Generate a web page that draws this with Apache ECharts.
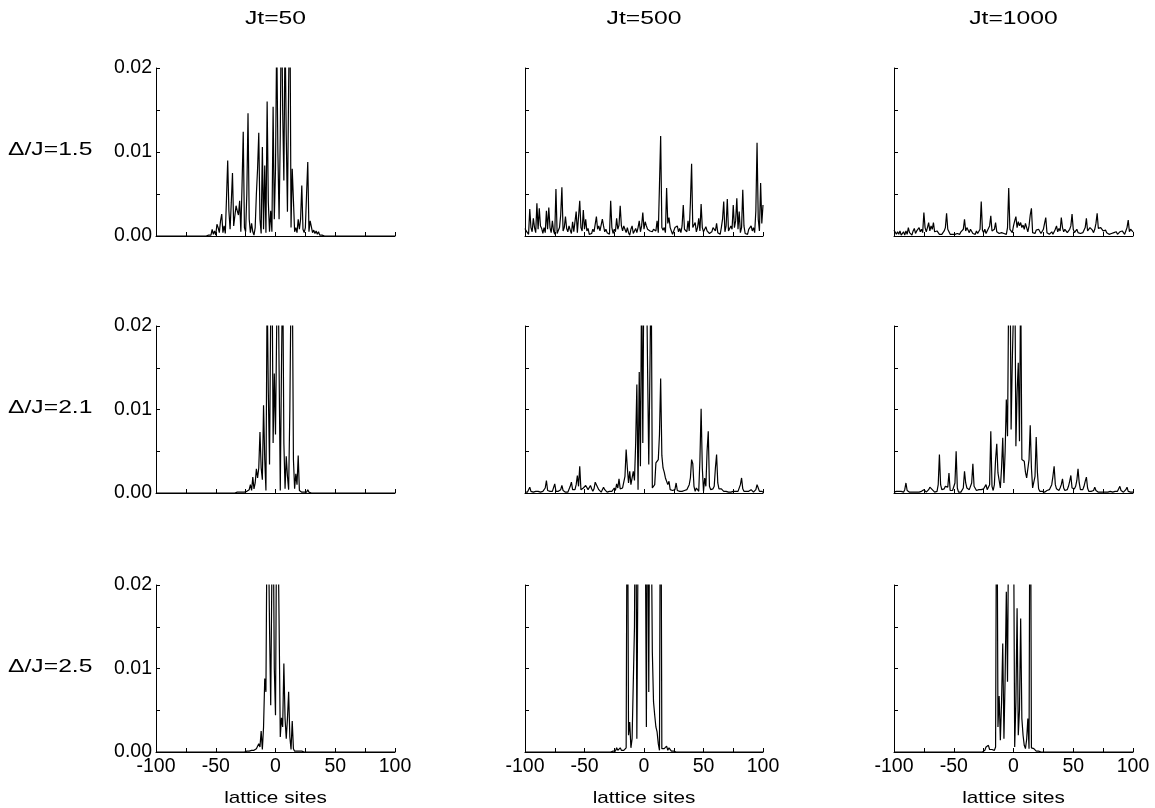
<!DOCTYPE html>
<html>
<head>
<meta charset="utf-8">
<title>lattice sites</title>
<script src="https://cdn.jsdelivr.net/npm/echarts@6/dist/echarts.min.js"></script>
<style>
html, body { margin: 0; padding: 0; background: #fff; }
#main { width: 1155px; height: 808px; }
</style>
</head>
<body>
<div id="main"></div>
<script>
// column titles, row labels, tick labels
var times = ['Jt=50', 'Jt=500', 'Jt=1000'];
var gaps = ['\u0394/J=1.5', '\u0394/J=2.1', '\u0394/J=2.5'];
var xTicks = [-100, -50, 0, 50, 100];
var yTicks = [0, 0.01, 0.02];

// lattice sites -100 .. 100
var sites = [];
for (var s = -100; s <= 100; s++) sites.push(s);

// Δ/J=1.5
var d15_50 = [
  0, 0, 0, 0, 0, 0, 0, 0, 0, 0,
  0, 0, 0, 0, 0, 0, 0, 0, 0, 0,
  0, 0, 0, 0, 0, 0, 0, 0, 0, 0,
  0, 0, 0, 0, 0, 0, 0, 0, 0, 0,
  0, 0.0001, 0, 0.0002, 0.0001, 0.0003, 0.0001, 0.0008, 0.0002, 0.0006,
  0.0001, 0.0014, 0.0010, 0.0004, 0.0018, 0.0026, 0.0004, 0.0012, 0.0003, 0.0045,
  0.0090, 0.0030, 0.0008, 0.0040, 0.0075, 0.0012, 0.0010, 0.0036, 0.0030, 0.0025,
  0.0042, 0.0005, 0.0060, 0.0124, 0.0010, 0.0005, 0.0050, 0.0146, 0.0020, 0.0004,
  0.0015, 0.0005, 0.0001, 0.0010, 0.0050, 0.0080, 0.0123, 0.0020, 0.0003, 0.0106,
  0.0008, 0.0084, 0.0004, 0.0160, 0.0040, 0.0005, 0.0030, 0.0005, 0.0154, 0.0020,
  0.0080, 0.0240, 0.0100, 0.0020, 0.0120, 0.0300, 0.0150, 0.0066, 0.0250, 0.0120,
  0.0029, 0.0180, 0.0300, 0.0010, 0.0080, 0.0078, 0.0005, 0.0010, 0.0004, 0.0020,
  0.0008, 0.0020, 0.0060, 0.0008, 0.0004, 0.0010, 0.0050, 0.0088, 0.0005, 0.0018,
  0.0017, 0.0004, 0.0007, 0.0003, 0.0006, 0.0002, 0.0005, 0.0001, 0.0003, 0.0001,
  0.0001, 0, 0, 0, 0, 0, 0, 0, 0, 0,
  0, 0, 0, 0, 0, 0, 0, 0, 0, 0,
  0, 0, 0, 0, 0, 0, 0, 0, 0, 0,
  0, 0, 0, 0, 0, 0, 0, 0, 0, 0,
  0, 0, 0, 0, 0, 0, 0, 0, 0, 0,
  0, 0, 0, 0, 0, 0, 0, 0, 0, 0,
  0
];
var d15_500 = [
  0.0009, 0.0006, 0.0008, 0.0002, 0.0032, 0.0010, 0.0005, 0.0021, 0.0010, 0.0004,
  0.0039, 0.0008, 0.0033, 0.0012, 0.0009, 0.0003, 0.0010, 0.0004, 0.0030, 0.0008,
  0.0034, 0.0010, 0.0004, 0.0018, 0.0006, 0.0002, 0.0056, 0.0003, 0.0001, 0.0010,
  0.0025, 0.0058, 0.0006, 0.0010, 0.0023, 0.0009, 0.0005, 0.0012, 0.0007, 0.0003,
  0.0017, 0.0005, 0.0006, 0.0029, 0.0004, 0.0003, 0.0042, 0.0010, 0.0006, 0.0031,
  0.0008, 0.0020, 0.0006, 0.0009, 0.0002, 0.0001, 0.0003, 0.0008, 0.0005, 0.0004,
  0.0023, 0.0008, 0.0012, 0.0006, 0.0005, 0.0020, 0.0012, 0.0005, 0.0008, 0.0004,
  0.0006, 0.0002, 0.0042, 0.0010, 0.0003, 0.0008, 0.0005, 0.0021, 0.0008, 0.0013,
  0.0036, 0.0012, 0.0006, 0.0012, 0.0008, 0.0004, 0.0010, 0.0004, 0.0001, 0.0008,
  0.0012, 0.0003, 0.0001, 0.0009, 0.0004, 0.0010, 0.0018, 0.0005, 0.0012, 0.0028,
  0.0008, 0.0017, 0.0012, 0.0008, 0.0010, 0.0006, 0.0008, 0.0005, 0.0008, 0.0010,
  0.0006, 0.0018, 0.0004, 0.0060, 0.0119, 0.0010, 0.0007, 0.0010, 0.0004, 0.0057,
  0.0015, 0.0022, 0.0010, 0.0006, 0.0002, 0.0006, 0.0010, 0.0008, 0.0012, 0.0005,
  0.0009, 0.0004, 0.0012, 0.0037, 0.0008, 0.0009, 0.0005, 0.0018, 0.0006, 0.0040,
  0.0086, 0.0010, 0.0009, 0.0016, 0.0005, 0.0010, 0.0021, 0.0006, 0.0038, 0.0010,
  0.0005, 0.0008, 0.0011, 0.0006, 0.0007, 0.0003, 0.0002, 0.0005, 0.0010, 0.0012,
  0.0006, 0.0015, 0.0004, 0.0005, 0.0002, 0.0010, 0.0020, 0.0041, 0.0005, 0.0012,
  0.0044, 0.0006, 0.0005, 0.0012, 0.0008, 0.0037, 0.0010, 0.0018, 0.0045, 0.0008,
  0.0029, 0.0004, 0.0010, 0.0055, 0.0012, 0.0003, 0.0005, 0.0002, 0.0008, 0.0010,
  0.0012, 0.0006, 0.0010, 0.0004, 0.0030, 0.0111, 0.0020, 0.0006, 0.0063, 0.0015,
  0.0037
];
var d15_1000 = [
  0.0007, 0.0005, 0.0002, 0.0005, 0.0002, 0.0006, 0.0001, 0.0003, 0.0005, 0.0001,
  0.0006, 0.0002, 0.0010, 0.0004, 0.0002, 0.0001, 0.0006, 0.0009, 0.0003, 0.0006,
  0.0004, 0.0010, 0.0005, 0.0008, 0.0004, 0.0028, 0.0010, 0.0005, 0.0010, 0.0016,
  0.0006, 0.0012, 0.0008, 0.0016, 0.0005, 0.0003, 0.0006, 0.0004, 0.0002, 0.0004,
  0.0002, 0.0003, 0.0006, 0.0010, 0.0027, 0.0008, 0.0005, 0.0002, 0.0001, 0.0002,
  0.0001, 0.0002, 0.0001, 0.0003, 0.0001, 0.0002, 0.0005, 0.0003, 0.0008, 0.0020,
  0.0006, 0.0010, 0.0009, 0.0004, 0.0008, 0.0006, 0.0003, 0.0005, 0.0002, 0.0006,
  0.0003, 0.0004, 0.0008, 0.0041, 0.0007, 0.0004, 0.0008, 0.0003, 0.0006, 0.0009,
  0.0012, 0.0024, 0.0006, 0.0004, 0.0008, 0.0016, 0.0005, 0.0006, 0.0003, 0.0005,
  0.0004, 0.0005, 0.0003, 0.0004, 0.0002, 0.0010, 0.0057, 0.0008, 0.0006, 0.0004,
  0.0012, 0.0018, 0.0023, 0.0010, 0.0017, 0.0012, 0.0016, 0.0010, 0.0013, 0.0008,
  0.0015, 0.0010, 0.0005, 0.0012, 0.0025, 0.0033, 0.0004, 0.0006, 0.0003, 0.0007,
  0.0005, 0.0008, 0.0006, 0.0003, 0.0005, 0.0008, 0.0015, 0.0022, 0.0004, 0.0006,
  0.0002, 0.0003, 0.0005, 0.0002, 0.0004, 0.0008, 0.0012, 0.0005, 0.0009, 0.0006,
  0.0022, 0.0010, 0.0005, 0.0008, 0.0010, 0.0004, 0.0006, 0.0008, 0.0012, 0.0026,
  0.0008, 0.0004, 0.0006, 0.0008, 0.0004, 0.0006, 0.0003, 0.0005, 0.0004, 0.0006,
  0.0010, 0.0021, 0.0006, 0.0008, 0.0010, 0.0009, 0.0007, 0.0004, 0.0008, 0.0015,
  0.0027, 0.0009, 0.0008, 0.0010, 0.0008, 0.0006, 0.0005, 0.0007, 0.0004, 0.0003,
  0.0002, 0.0004, 0.0003, 0.0002, 0.0004, 0.0003, 0.0005, 0.0002, 0.0004, 0.0005,
  0.0003, 0.0006, 0.0004, 0.0002, 0.0006, 0.0010, 0.0019, 0.0005, 0.0008, 0.0006,
  0.0005
];

// Δ/J=2.1
var d21_50 = [
  0, 0, 0, 0, 0, 0, 0, 0, 0, 0,
  0, 0, 0, 0, 0, 0, 0, 0, 0, 0,
  0, 0, 0, 0, 0, 0, 0, 0, 0, 0,
  0, 0, 0, 0, 0, 0, 0, 0, 0, 0,
  0, 0, 0, 0, 0, 0, 0, 0, 0, 0,
  0, 0, 0, 0, 0, 0, 0, 0, 0, 0,
  0, 0, 0, 0.0001, 0, 0.0001, 0, 0.0001, 0.0001, 0,
  0.0001, 0.0002, 0.0001, 0.0002, 0.0001, 0.0003, 0.0002, 0.0001, 0.0004, 0.0010,
  0.0003, 0.0019, 0.0005, 0.0012, 0.0029, 0.0018, 0.0030, 0.0073, 0.0030, 0.0016,
  0.0105, 0.0040, 0.0003, 0.0250, 0.0120, 0.0034, 0.0220, 0.0300, 0.0060, 0.0143,
  0.0070, 0.0200, 0.0300, 0.0150, 0.0003, 0.0150, 0.0280, 0.0060, 0.0005, 0.0044,
  0.0020, 0.0004, 0.0100, 0.0250, 0.0280, 0.0040, 0.0005, 0.0023, 0.0010, 0.0045,
  0.0003, 0.0002, 0.0001, 0.0002, 0.0001, 0.0002, 0.0001, 0.0004, 0.0001, 0.0001,
  0, 0, 0, 0, 0, 0, 0, 0, 0, 0,
  0, 0, 0, 0, 0, 0, 0, 0, 0, 0,
  0, 0, 0, 0, 0, 0, 0, 0, 0, 0,
  0, 0, 0, 0, 0, 0, 0, 0, 0, 0,
  0, 0, 0, 0, 0, 0, 0, 0, 0, 0,
  0, 0, 0, 0, 0, 0, 0, 0, 0, 0,
  0, 0, 0, 0, 0, 0, 0, 0, 0, 0,
  0
];
var d21_500 = [
  0.0001, 0.0002, 0.0001, 0.0004, 0.0007, 0.0002, 0.0001, 0.0001, 0.0001, 0.0002,
  0.0001, 0.0002, 0.0004, 0.0001, 0.0001, 0.0002, 0.0001, 0.0006, 0.0015, 0.0003,
  0.0001, 0.0002, 0.0001, 0.0002, 0.0004, 0.0011, 0.0002, 0.0001, 0.0002, 0.0001,
  0.0004, 0.0009, 0.0003, 0.0001, 0.0001, 0.0002, 0.0001, 0.0003, 0.0008, 0.0013,
  0.0004, 0.0002, 0.0004, 0.0010, 0.0021, 0.0008, 0.0032, 0.0004, 0.0002, 0.0006,
  0.0004, 0.0009, 0.0008, 0.0004, 0.0002, 0.0009, 0.0005, 0.0002, 0.0005, 0.0013,
  0.0010, 0.0007, 0.0004, 0.0003, 0.0001, 0.0002, 0.0007, 0.0004, 0.0002, 0.0001,
  0.0001, 0.0002, 0.0001, 0.0002, 0.0004, 0.0006, 0.0003, 0.0011, 0.0006, 0.0017,
  0.0005, 0.0004, 0.0006, 0.0008, 0.0020, 0.0052, 0.0030, 0.0012, 0.0026, 0.0010,
  0.0018, 0.0026, 0.0015, 0.0060, 0.0130, 0.0004, 0.0145, 0.0032, 0.0260, 0.0060,
  0.0300, 0.0250, 0.0280, 0.0150, 0.0034, 0.0150, 0.0280, 0.0006, 0.0005, 0.0010,
  0.0036, 0.0038, 0.0040, 0.0070, 0.0137, 0.0045, 0.0030, 0.0025, 0.0018, 0.0016,
  0.0010, 0.0014, 0.0004, 0.0002, 0.0003, 0.0002, 0.0004, 0.0012, 0.0003, 0.0002,
  0.0002, 0.0003, 0.0002, 0.0002, 0.0003, 0.0002, 0.0004, 0.0006, 0.0010, 0.0018,
  0.0040, 0.0035, 0.0008, 0.0002, 0.0006, 0.0004, 0.0002, 0.0040, 0.0101, 0.0030,
  0.0002, 0.0018, 0.0008, 0.0050, 0.0074, 0.0008, 0.0004, 0.0006, 0.0005, 0.0008,
  0.0030, 0.0046, 0.0012, 0.0005, 0.0004, 0.0005, 0.0004, 0.0002, 0.0001, 0.0002,
  0.0001, 0.0001, 0.0002, 0.0001, 0.0001, 0.0002, 0.0001, 0.0002, 0.0001, 0.0002,
  0.0004, 0.0010, 0.0018, 0.0005, 0.0002, 0.0001, 0.0002, 0.0001, 0.0002, 0.0003,
  0.0004, 0.0002, 0.0001, 0.0002, 0.0004, 0.0010, 0.0006, 0.0002, 0.0001, 0.0002,
  0.0001
];
var d21_1000 = [
  0.0001, 0.0001, 0.0002, 0.0001, 0.0002, 0.0003, 0.0002, 0.0001, 0.0001, 0.0004,
  0.0012, 0.0003, 0.0002, 0.0001, 0.0001, 0.0001, 0.0002, 0.0001, 0.0001, 0.0001,
  0.0002, 0.0001, 0.0001, 0.0002, 0.0003, 0.0004, 0.0002, 0.0001, 0.0002, 0.0004,
  0.0007, 0.0005, 0.0004, 0.0003, 0.0001, 0.0001, 0.0002, 0.0010, 0.0046, 0.0010,
  0.0004, 0.0006, 0.0005, 0.0008, 0.0010, 0.0007, 0.0024, 0.0003, 0.0002, 0.0003,
  0.0004, 0.0012, 0.0050, 0.0006, 0.0001, 0.0002, 0.0001, 0.0002, 0.0006, 0.0026,
  0.0012, 0.0006, 0.0005, 0.0004, 0.0006, 0.0012, 0.0035, 0.0008, 0.0006, 0.0003,
  0.0002, 0.0004, 0.0006, 0.0004, 0.0003, 0.0005, 0.0007, 0.0010, 0.0004, 0.0002,
  0.0010, 0.0074, 0.0008, 0.0003, 0.0010, 0.0040, 0.0059, 0.0024, 0.0015, 0.0006,
  0.0030, 0.0066, 0.0012, 0.0050, 0.0112, 0.0068, 0.0250, 0.0300, 0.0076, 0.0158,
  0.0220, 0.0300, 0.0056, 0.0120, 0.0156, 0.0062, 0.0260, 0.0040, 0.0042, 0.0038,
  0.0025, 0.0018, 0.0017, 0.0040, 0.0081, 0.0030, 0.0006, 0.0004, 0.0020, 0.0067,
  0.0025, 0.0005, 0.0002, 0.0001, 0.0002, 0.0001, 0.0001, 0.0002, 0.0003, 0.0002,
  0.0004, 0.0005, 0.0010, 0.0020, 0.0032, 0.0010, 0.0005, 0.0004, 0.0003, 0.0006,
  0.0010, 0.0017, 0.0006, 0.0003, 0.0002, 0.0004, 0.0008, 0.0014, 0.0021, 0.0006,
  0.0004, 0.0005, 0.0008, 0.0015, 0.0029, 0.0012, 0.0004, 0.0003, 0.0004, 0.0008,
  0.0014, 0.0019, 0.0006, 0.0002, 0.0001, 0.0002, 0.0001, 0.0003, 0.0007, 0.0003,
  0.0001, 0.0001, 0.0002, 0.0001, 0.0001, 0.0001, 0.0002, 0.0001, 0.0001, 0.0001,
  0.0001, 0.0002, 0.0001, 0.0001, 0.0001, 0.0002, 0.0001, 0.0002, 0.0004, 0.0008,
  0.0003, 0.0001, 0.0001, 0.0002, 0.0004, 0.0007, 0.0002, 0.0001, 0.0001, 0.0001,
  0.0001
];

// Δ/J=2.5
var d25_50 = [
  0, 0, 0, 0, 0, 0, 0, 0, 0, 0,
  0, 0, 0, 0, 0, 0, 0, 0, 0, 0,
  0, 0, 0, 0, 0, 0, 0, 0, 0, 0,
  0, 0, 0, 0, 0, 0, 0, 0, 0, 0,
  0, 0, 0, 0, 0, 0, 0, 0, 0, 0,
  0, 0, 0, 0, 0, 0, 0, 0, 0, 0,
  0, 0, 0, 0, 0, 0, 0, 0, 0, 0,
  0, 0, 0, 0, 0, 0, 0.0001, 0, 0.0001, 0.0001,
  0.0002, 0.0001, 0.0002, 0.0003, 0.0004, 0.0002, 0.0010, 0.0006, 0.0025, 0.0003,
  0.0030, 0.0088, 0.0072, 0.0300, 0.0280, 0.0150, 0.0056, 0.0220, 0.0300, 0.0100,
  0.0044, 0.0300, 0.0280, 0.0156, 0.0018, 0.0041, 0.0030, 0.0106, 0.0040, 0.0016,
  0.0040, 0.0072, 0.0018, 0.0003, 0.0037, 0.0004, 0.0001, 0.0002, 0.0001, 0.0002,
  0.0001, 0.0002, 0.0001, 0.0001, 0, 0, 0, 0, 0, 0,
  0, 0, 0, 0, 0, 0, 0, 0, 0, 0,
  0, 0, 0, 0, 0, 0, 0, 0, 0, 0,
  0, 0, 0, 0, 0, 0, 0, 0, 0, 0,
  0, 0, 0, 0, 0, 0, 0, 0, 0, 0,
  0, 0, 0, 0, 0, 0, 0, 0, 0, 0,
  0, 0, 0, 0, 0, 0, 0, 0, 0, 0,
  0, 0, 0, 0, 0, 0, 0, 0, 0, 0,
  0
];
var d25_500 = [
  0, 0, 0, 0, 0, 0, 0, 0, 0, 0,
  0, 0, 0, 0, 0, 0, 0, 0, 0, 0,
  0, 0, 0, 0, 0, 0, 0, 0, 0, 0,
  0, 0, 0, 0, 0, 0, 0, 0, 0, 0,
  0, 0, 0, 0, 0, 0, 0, 0, 0, 0,
  0, 0, 0, 0, 0, 0, 0, 0, 0, 0,
  0, 0, 0, 0, 0, 0, 0, 0, 0, 0,
  0, 0, 0, 0, 0.0001, 0.0002, 0.0001, 0.0005, 0.0002, 0.0004,
  0.0005, 0.0002, 0.0001, 0.0002, 0.0004, 0.0005, 0.0400, 0.0020, 0.0036, 0.0005,
  0.0016, 0.0017, 0.0150, 0.0400, 0.0016, 0.0250, 0.0400, 0.0450, 0.0500, 0.0450,
  0.0400, 0.0300, 0.0030, 0.0400, 0.0072, 0.0400, 0.0300, 0.0120, 0.0060, 0.0044,
  0.0030, 0.0024, 0.0010, 0.0002, 0.0450, 0.0004, 0.0002, 0.0004, 0.0002, 0.0007,
  0.0002, 0.0005, 0.0003, 0.0001, 0.0002, 0.0001, 0, 0, 0, 0,
  0, 0, 0, 0, 0, 0, 0, 0, 0, 0,
  0, 0, 0, 0, 0, 0, 0, 0, 0, 0,
  0, 0, 0, 0, 0, 0, 0, 0, 0, 0,
  0, 0, 0, 0, 0, 0, 0, 0, 0, 0,
  0, 0, 0, 0, 0, 0, 0, 0, 0, 0,
  0, 0, 0, 0, 0, 0, 0, 0, 0, 0,
  0, 0, 0, 0, 0, 0, 0, 0, 0, 0,
  0
];
var d25_1000 = [
  0, 0, 0, 0, 0, 0, 0, 0, 0, 0,
  0, 0, 0, 0, 0, 0, 0, 0, 0, 0,
  0, 0, 0, 0, 0, 0, 0, 0, 0, 0,
  0, 0, 0, 0, 0, 0, 0, 0, 0, 0,
  0, 0, 0, 0, 0, 0, 0, 0, 0, 0,
  0, 0, 0, 0, 0, 0, 0, 0, 0, 0,
  0, 0, 0, 0, 0, 0, 0, 0, 0, 0,
  0, 0, 0, 0, 0, 0.0001, 0.0002, 0.0006, 0.0004, 0.0008,
  0.0003, 0.0005, 0.0003, 0.0002, 0.0002, 0.0006, 0.0400, 0.0030, 0.0067, 0.0014,
  0.0060, 0.0130, 0.0016, 0.0090, 0.0192, 0.0084, 0.0300, 0.0450, 0.0500, 0.0450,
  0.0300, 0.0006, 0.0060, 0.0172, 0.0020, 0.0050, 0.0160, 0.0040, 0.0020, 0.0008,
  0.0004, 0.0015, 0.0040, 0.0004, 0.0450, 0.0005, 0.0003, 0.0004, 0.0002, 0.0001,
  0.0002, 0.0001, 0, 0, 0, 0, 0, 0, 0, 0,
  0, 0, 0, 0, 0, 0, 0, 0, 0, 0,
  0, 0, 0, 0, 0, 0, 0, 0, 0, 0,
  0, 0, 0, 0, 0, 0, 0, 0, 0, 0,
  0, 0, 0, 0, 0, 0, 0, 0, 0, 0,
  0, 0, 0, 0, 0, 0, 0, 0, 0, 0,
  0, 0, 0, 0, 0, 0, 0, 0, 0, 0,
  0, 0, 0, 0, 0, 0, 0, 0, 0, 0,
  0
];

var panels = [
  [d15_50, d15_500, d15_1000],
  [d21_50, d21_500, d21_1000],
  [d25_50, d25_500, d25_1000]
];

// panel layout (px)
var colLeft = [156, 525, 894];
var colWidth = [239, 238, 239];
var rowTop = [68, 326, 585];
var rowHeight = [168, 167, 167];

var FONT = '"Liberation Sans", Arial, Helvetica, sans-serif';

var grids = [], xAxes = [], yAxes = [], series = [], graphics = [];

for (var r = 0; r < 3; r++) {
  for (var c = 0; c < 3; c++) {
    var idx = grids.length;
    grids.push({
      left: colLeft[c], top: rowTop[r],
      width: colWidth[c], height: rowHeight[r]
    });
    xAxes.push({
      type: 'value', gridIndex: idx,
      min: -100, max: 100, interval: 25,
      axisLine: { show: true, onZero: false, lineStyle: { color: '#000', width: 1 } },
      axisTick: { show: true, inside: true, length: 4, lineStyle: { color: '#000' } },
      splitLine: { show: false },
      axisLabel: {
        show: r === 2, margin: 5, color: '#000',
        fontSize: 19.5, fontFamily: FONT,
        formatter: function (v) { return xTicks.indexOf(v) >= 0 ? String(v) : ''; }
      }
    });
    yAxes.push({
      type: 'value', gridIndex: idx,
      min: 0, max: 0.02, interval: 0.005,
      axisLine: { show: true, onZero: false, lineStyle: { color: '#000', width: 1 } },
      axisTick: { show: true, inside: true, length: 4, lineStyle: { color: '#000' } },
      splitLine: { show: false },
      axisLabel: {
        show: c === 0, margin: 4, color: '#000',
        fontSize: 19.5, fontFamily: FONT,
        formatter: function (v) {
          var k = Math.round(v * 1000);
          for (var i = 0; i < yTicks.length; i++) {
            if (Math.round(yTicks[i] * 1000) === k) return yTicks[i].toFixed(2);
          }
          return '';
        }
      }
    });
    var vals = panels[r][c];
    series.push({
      type: 'line', xAxisIndex: idx, yAxisIndex: idx,
      showSymbol: false, symbol: 'none', clip: true,
      sampling: null, animation: false,
      lineStyle: { color: '#000', width: 1.2 },
      data: sites.map(function (s, k) { return [s, vals[k]]; })
    });
  }
}

// column titles and x axis names
for (var c2 = 0; c2 < 3; c2++) {
  graphics.push({
    type: 'text', x: colLeft[c2] + colWidth[c2] / 2, y: 19, scaleX: 1.3,
    style: { text: times[c2], font: '19px ' + FONT, fill: '#000',
             textAlign: 'center', textVerticalAlign: 'middle' }
  });
  graphics.push({
    type: 'text', x: colLeft[c2] + colWidth[c2] / 2, y: 798, scaleX: 1.22,
    style: { text: 'lattice sites', font: '17px ' + FONT, fill: '#000',
             textAlign: 'center', textVerticalAlign: 'middle' }
  });
}
// row labels
for (var r2 = 0; r2 < 3; r2++) {
  graphics.push({
    type: 'text', x: 8, y: rowTop[r2] + rowHeight[r2] / 2 - 2, scaleX: 1.3,
    style: { text: gaps[r2], font: '19px ' + FONT, fill: '#000',
             textAlign: 'left', textVerticalAlign: 'middle' }
  });
}

var chart = echarts.init(document.getElementById('main'), null, { renderer: 'canvas' });
chart.setOption({
  animation: false,
  backgroundColor: '#fff',
  grid: grids,
  xAxis: xAxes,
  yAxis: yAxes,
  series: series,
  graphic: graphics
});
</script>
</body>
</html>
